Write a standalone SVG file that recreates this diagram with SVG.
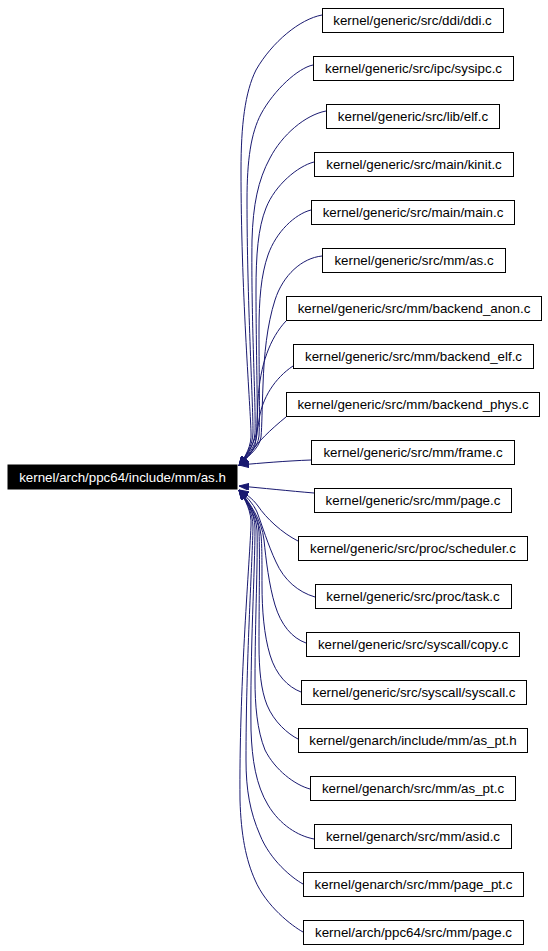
<svg xmlns="http://www.w3.org/2000/svg" width="548" height="951" viewBox="0 0 548 951">
<style>
.n rect{fill:#fff;stroke:#000;stroke-width:1}
.n text{font-family:"Liberation Sans",Arial,sans-serif;font-size:13.33px;fill:#000;text-anchor:middle}
.root rect{fill:#000;stroke:#000}
.root text{font-family:"Liberation Sans",Arial,sans-serif;font-size:13.33px;fill:#fff;text-anchor:middle}
.e path{fill:none;stroke:#191970;stroke-width:1;marker-end:url(#ah)}
</style>
<defs>
<marker id="ah" viewBox="0 0 10 7" refX="10" refY="3.5" markerWidth="10" markerHeight="7" orient="auto" markerUnits="userSpaceOnUse">
<path d="M0,0 L10,3.5 L0,7 z" fill="#191970" stroke="#191970" stroke-width="1"/>
</marker>
</defs>
<rect width="548" height="951" fill="#fff"/>
<g id="edges" class="e">
<path d="M322,15 C300,19 272,42 256,70 C245,92 241,125 241,170 C241,290 250,400 251,432 C252,446 245,457 239,466"/>
<path d="M313,65 C298,68 274,90 261,114 C251,133 247,160 247,200 C247,300 253,400 253,432 C253,446 245,457 239,466"/>
<path d="M326,111 C305,115 282,135 270,158 C258,180 253,205 252,240 C251,320 256,405 255,433 C254,447 245,457 239,466"/>
<path d="M314,162 C298,166 275,185 266,208 C258,228 256,255 256,290 C256,350 258,410 257,434 C256,448 245,457 239,466"/>
<path d="M311,210 C295,214 276,232 268,255 C261,275 259,300 259,330 C259,380 260,415 259,436 C258,449 245,457 239,466"/>
<path d="M322,256 C302,258 283,275 275,300 C267,325 264,355 263,385 C262,410 262,425 261,437 C259,450 246,457 239,466"/>
<path d="M286,321 C270,338 260,365 258,400 C257,420 257,436 255,445 C251,455 245,459 239,466"/>
<path d="M293,366 C275,378 262,398 259,420 C257,438 250,452 239,466"/>
<path d="M286,417 C270,430 258,442 251,452 C247,457 243,461 239,466"/>
<path d="M311,460 C285,461 262,463 239,465"/>
<path d="M314,493 C290,491 262,488 239,486"/>
<path d="M298,541 C282,533 266,518 258,506 C252,498 246,494 239,490"/>
<path d="M315,597 C298,592 284,580 276,562 C268,545 262,525 257,512 C253,503 246,496 239,490"/>
<path d="M306,643 C292,638 281,625 275,605 C269,585 266,560 264,540 C262,520 248,500 239,490"/>
<path d="M301,692 C288,687 276,675 270,655 C264,635 262,610 262,585 C262,560 262,545 261,535 C259,517 246,499 239,490"/>
<path d="M298,739 C288,734 274,722 267,705 C261,690 259,670 259,645 C259,600 260,555 259,532 C258,515 246,499 239,490"/>
<path d="M310,789 C295,785 275,770 265,750 C257,730 255,705 255,680 C255,620 258,560 257,530 C256,514 245,499 239,490"/>
<path d="M314,839 C298,836 280,825 268,805 C256,785 252,760 251,730 C250,650 255,570 255,528 C255,513 245,499 239,490"/>
<path d="M303,884 C292,878 270,860 260,835 C250,812 246,790 246,760 C246,660 252,570 253,527 C253,512 245,499 239,490"/>
<path d="M303,932 C292,926 266,906 255,880 C246,860 241,835 240,800 C239,690 249,570 251,526 C252,512 245,499 239,490"/>
</g>
<g id="root" class="root"><rect x="8" y="465" width="229" height="24"/><text x="122.5" y="481.5">kernel/arch/ppc64/include/mm/as.h</text></g>
<g id="n0" class="n"><rect x="322.5" y="8.5" width="181" height="24"/><text x="412.5" y="25">kernel/generic/src/ddi/ddi.c</text></g>
<g id="n1" class="n"><rect x="313.5" y="56.5" width="200" height="24"/><text x="413.5" y="73">kernel/generic/src/ipc/sysipc.c</text></g>
<g id="n2" class="n"><rect x="326.5" y="104.5" width="173" height="24"/><text x="413" y="121">kernel/generic/src/lib/elf.c</text></g>
<g id="n3" class="n"><rect x="314.5" y="152.5" width="199" height="24"/><text x="414" y="169">kernel/generic/src/main/kinit.c</text></g>
<g id="n4" class="n"><rect x="311.5" y="200.5" width="203" height="24"/><text x="413" y="217">kernel/generic/src/main/main.c</text></g>
<g id="n5" class="n"><rect x="322.5" y="248.5" width="183" height="24"/><text x="414" y="265">kernel/generic/src/mm/as.c</text></g>
<g id="n6" class="n"><rect x="286.5" y="296.5" width="255" height="24"/><text x="414" y="313">kernel/generic/src/mm/backend_anon.c</text></g>
<g id="n7" class="n"><rect x="293.5" y="344.5" width="240" height="24"/><text x="413.5" y="361">kernel/generic/src/mm/backend_elf.c</text></g>
<g id="n8" class="n"><rect x="286.5" y="392.5" width="253" height="24"/><text x="413" y="409">kernel/generic/src/mm/backend_phys.c</text></g>
<g id="n9" class="n"><rect x="311.5" y="440.5" width="203" height="24"/><text x="413" y="457">kernel/generic/src/mm/frame.c</text></g>
<g id="n10" class="n"><rect x="314.5" y="488.5" width="197" height="24"/><text x="413" y="505">kernel/generic/src/mm/page.c</text></g>
<g id="n11" class="n"><rect x="298.5" y="536.5" width="229" height="24"/><text x="413" y="553">kernel/generic/src/proc/scheduler.c</text></g>
<g id="n12" class="n"><rect x="315.5" y="584.5" width="196" height="24"/><text x="413" y="601">kernel/generic/src/proc/task.c</text></g>
<g id="n13" class="n"><rect x="306.5" y="632.5" width="213" height="24"/><text x="413" y="649">kernel/generic/src/syscall/copy.c</text></g>
<g id="n14" class="n"><rect x="301.5" y="680.5" width="225" height="24"/><text x="414" y="697">kernel/generic/src/syscall/syscall.c</text></g>
<g id="n15" class="n"><rect x="298.5" y="728.5" width="229" height="24"/><text x="413" y="745">kernel/genarch/include/mm/as_pt.h</text></g>
<g id="n16" class="n"><rect x="310.5" y="776.5" width="205" height="24"/><text x="413" y="793">kernel/genarch/src/mm/as_pt.c</text></g>
<g id="n17" class="n"><rect x="314.5" y="824.5" width="197" height="24"/><text x="413" y="841">kernel/genarch/src/mm/asid.c</text></g>
<g id="n18" class="n"><rect x="303.5" y="872.5" width="220" height="24"/><text x="413.5" y="889">kernel/genarch/src/mm/page_pt.c</text></g>
<g id="n19" class="n"><rect x="303.5" y="920.5" width="220" height="24"/><text x="413.5" y="937">kernel/arch/ppc64/src/mm/page.c</text></g>
</svg>
